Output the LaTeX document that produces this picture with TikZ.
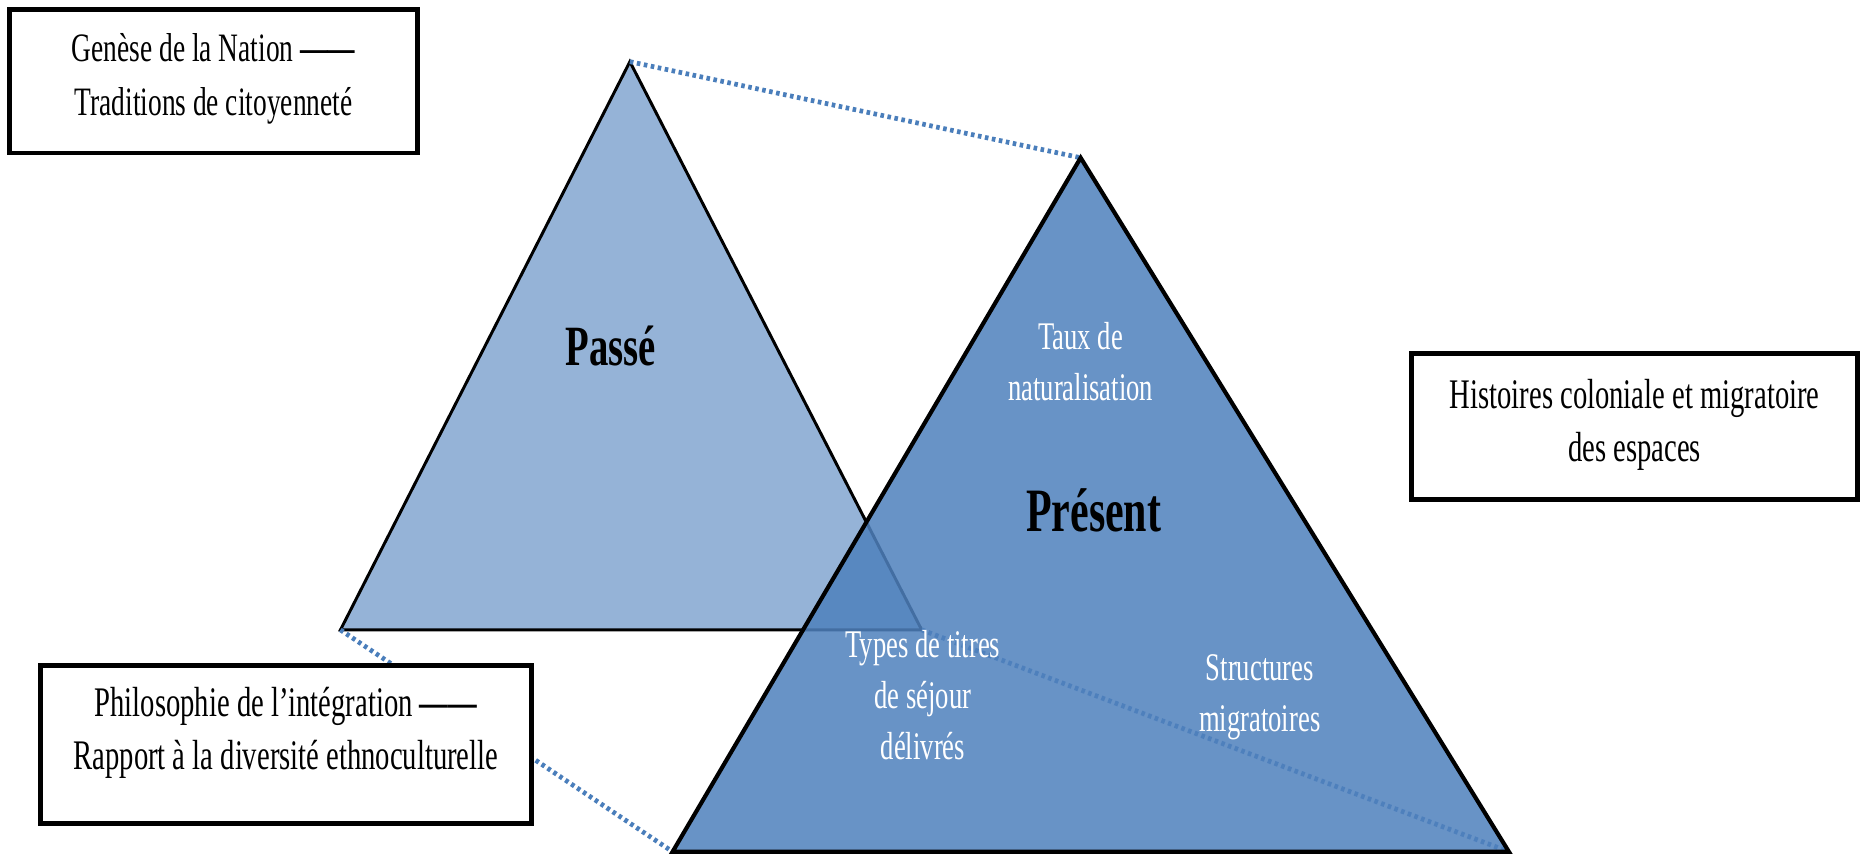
\documentclass[tikz,border=0pt]{standalone}
\usepackage{fontspec}
\setmainfont[FakeStretch=0.68]{Liberation Serif}
\definecolor{pastfill}{HTML}{95B3D7}
\definecolor{presfill}{HTML}{4F81BD}
\definecolor{dotblue}{HTML}{4A7EBB}
\tikzset{
  labelbox/.style={draw=black, line width=4pt, fill=white, align=center, inner sep=0pt},
  boxtext/.style={font=\fontsize{35.5}{45}\selectfont},
  whitetext/.style={text=white, align=center, font=\fontsize{33}{43}\selectfont},
  link/.style={draw=dotblue, line width=4pt, dash pattern=on 3pt off 3pt},
}
\begin{document}
\begin{tikzpicture}[x=1pt,y=-1pt]
\path[use as bounding box] (0,0) rectangle (1568,722);
% corners
\coordinate (pa) at (531,52);
\coordinate (pl) at (287,531);
\coordinate (pr) at (777,531);
\coordinate (qa) at (911,133);
\coordinate (ql) at (567,718);
\coordinate (qr) at (1272,718);
% past triangle
\draw[fill=pastfill, line width=2.5pt, line join=miter] (pa) -- (pl) -- (pr) -- cycle;
% dotted links
\draw[link] (pa) -- (qa);
\draw[link] (pl) -- (ql);
\draw[link] (pr) -- (qr);
% present triangle
\path[fill=presfill, fill opacity=0.86] (qa) -- (ql) -- (qr) -- cycle;
\draw[line width=3.5pt, line join=miter] (qa) -- (ql) -- (qr) -- cycle;
% labels
\node[font=\fontsize{48}{56}\selectfont\bfseries] (passe) at (515,292) {Passé};
\node[font=\fontsize{52}{60}\selectfont\bfseries] (present) at (922,430) {Présent};
\node[whitetext] (taux) at (911,305) {Taux de\\naturalisation};
\node[whitetext] (types) at (778,586) {Types de titres\\de séjour\\délivrés};
\node[whitetext] (struct) at (1062,588) {Structures\\migratoires};
% boxes
\node[labelbox, minimum width=344pt, minimum height=121pt] (genese) at (180,68.5) {};
\node[boxtext, font=\fontsize{34}{45}\selectfont, align=center] (genesetxt) at (180,66.5) {Genèse de la Nation {\bfseries ——}\\Traditions de citoyenneté};
\node[labelbox, minimum width=414pt, minimum height=133pt] (philo) at (241,627.5) {};
\node[boxtext, align=center] (philotxt) at (241,618) {Philosophie de l’intégration {\bfseries ——}\\Rapport à la diversité ethnoculturelle};
\node[labelbox, minimum width=376pt, minimum height=123pt] (hist) at (1378,359.5) {};
\node[boxtext, align=center] (histtxt) at (1378,358) {Histoires coloniale et migratoire\\des espaces};
\end{tikzpicture}
\end{document}
